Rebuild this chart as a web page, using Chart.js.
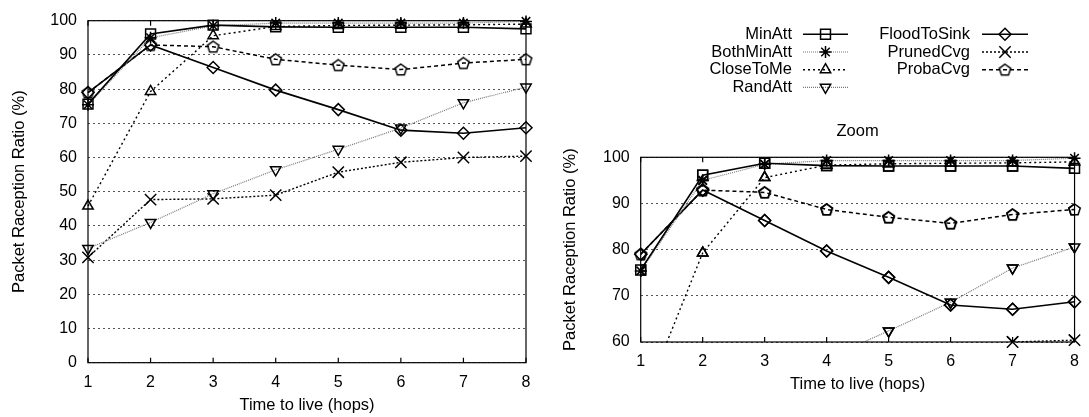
<!DOCTYPE html>
<html>
<head>
<meta charset="utf-8">
<script src="https://cdn.jsdelivr.net/npm/chart.js"></script>
<style>
  body { margin: 0; background: #fff; width: 1089px; height: 417px; position: relative; overflow: hidden; }
  #mainWrap { position: absolute; left: 0; top: 0; width: 560px; height: 417px; }
  #zoomWrap { position: absolute; left: 556px; top: 0; width: 533px; height: 417px; }
</style>
</head>
<body>
<div id="mainWrap"><canvas id="mainChart"></canvas></div>
<div id="zoomWrap"><canvas id="zoomChart"></canvas></div>
<script>
// values
const hops = [1, 2, 3, 4, 5, 6, 7, 8];
const minAtt      = [75.6, 96.1, 98.7, 98.2, 98.1, 98.1, 98.1, 97.6];
const bothMinAtt  = [75.4, 95.0, 98.5, 99.3, 99.3, 99.3, 99.3, 99.8];
const closeToMe   = [45.8, 79.3, 95.6, 98.3, 98.6, 98.7, 98.8, 99.0];
const randAtt     = [33.4, 41.0, 49.4, 56.4, 62.4, 68.6, 76.0, 80.6];
const floodToSink = [79.0, 92.9, 86.3, 79.7, 74.0, 68.0, 67.1, 68.7];
const prunedCvg   = [30.8, 47.7, 47.9, 49.0, 55.7, 58.6, 60.0, 60.4];
const probaCvg    = [79.0, 92.9, 92.4, 88.7, 87.0, 85.7, 87.6, 88.7];

const mainTicks = [0, 10, 20, 30, 40, 50, 60, 70, 80, 90, 100];
const zoomTicks = [60, 70, 80, 90, 100];

const FONT = 'Liberation Sans';
const TEXT_SIZE = 16.5;

function makePentagon(r, lw) {
  const size = Math.ceil(2 * r + lw * 2 + 2);
  const c = document.createElement('canvas');
  c.width = c.height = size;
  const g = c.getContext('2d');
  g.strokeStyle = '#000';
  g.lineWidth = lw;
  g.beginPath();
  for (let i = 0; i < 5; i++) {
    const a = -Math.PI / 2 + i * 2 * Math.PI / 5;
    const x = size / 2 + r * Math.cos(a), y = size / 2 + 0.5 + r * Math.sin(a);
    if (i) g.lineTo(x, y); else g.moveTo(x, y);
  }
  g.closePath();
  g.stroke();
  return c;
}
const pentagon = makePentagon(6, 1.5);

const series = [
  { label: 'MinAtt', data: minAtt, color: '#000', dash: [], width: 1.6, style: 'rect', r: 7, rot: 0 },
  { label: 'BothMinAtt', data: bothMinAtt, color: '#777', dash: [1, 1], width: 1.2, style: 'star', r: 6, rot: 0 },
  { label: 'CloseToMe', data: closeToMe, color: '#000', dash: [2, 3], width: 1.4, style: 'triangle', r: 6, rot: 0 },
  { label: 'RandAtt', data: randAtt, color: '#777', dash: [1, 1], width: 1.2, style: 'triangle', r: 6, rot: 180 },
  { label: 'FloodToSink', data: floodToSink, color: '#000', dash: [], width: 1.6, style: 'rectRot', r: 6, rot: 0 },
  { label: 'PrunedCvg', data: prunedCvg, color: '#000', dash: [2, 2], width: 1.4, style: 'crossRot', r: 8, rot: 0 },
  { label: 'ProbaCvg', data: probaCvg, color: '#000', dash: [4, 3], width: 1.5, style: pentagon, r: 6, rot: 0 }
];

function makeDatasets(clip) {
  return series.map(s => ({
    label: s.label,
    data: s.data,
    borderColor: s.color,
    borderWidth: s.width,
    borderDash: s.dash,
    pointStyle: s.style,
    pointRadius: s.r,
    pointRotation: s.rot,
    pointBorderColor: '#000',
    pointBackgroundColor: 'rgba(0,0,0,0)',
    pointBorderWidth: 1.5,
    tension: 0,
    clip: clip
  }));
}

// frame around the plot and small inward ticks on the x axis
const framePlugin = {
  id: 'frame',
  afterDatasetsDraw(chart) {
    const { ctx, chartArea: a } = chart;
    const xs = chart.scales.x;
    ctx.save();
    ctx.strokeStyle = '#000';
    ctx.lineWidth = 1.2;
    ctx.setLineDash([]);
    ctx.strokeRect(a.left, a.top, a.right - a.left, a.bottom - a.top);
    hops.forEach(h => {
      const px = xs.getPixelForValue(h);
      ctx.beginPath();
      ctx.moveTo(px, a.bottom); ctx.lineTo(px, a.bottom - 5);
      ctx.moveTo(px, a.top); ctx.lineTo(px, a.top + 5);
      ctx.stroke();
    });
    ctx.restore();
  }
};

// redraw the markers that sit inside the zoomed range without clipping
const markerPlugin = {
  id: 'markers',
  afterDatasetsDraw(chart) {
    const ys = chart.scales.y;
    chart.data.datasets.forEach((ds, i) => {
      const meta = chart.getDatasetMeta(i);
      meta.data.forEach((pt, j) => {
        const v = ds.data[j];
        if (v >= ys.min - 0.5 && v <= ys.max + 0.5) pt.draw(chart.ctx);
      });
    });
  }
};

// legend and "Zoom" title above the zoomed chart
const legendPlugin = {
  id: 'customLegend',
  afterDraw(chart) {
    const ctx = chart.ctx;
    const a = chart.chartArea;
    const cols = [
      { textRight: 236, lineFrom: 247, lineTo: 292, items: [0, 1, 2, 3] },
      { textRight: 414, lineFrom: 426, lineTo: 472, items: [4, 5, 6] }
    ];
    const rowY = [34.3, 52, 69.7, 87.3];
    ctx.save();
    ctx.font = TEXT_SIZE + 'px "' + FONT + '"';
    ctx.textAlign = 'right';
    ctx.textBaseline = 'middle';
    cols.forEach(col => {
      col.items.forEach((idx, row) => {
        const s = series[idx];
        const y = rowY[row];
        ctx.fillStyle = '#000';
        ctx.fillText(s.label, col.textRight, y);
        ctx.strokeStyle = s.color;
        ctx.lineWidth = s.width;
        ctx.setLineDash(s.dash);
        ctx.beginPath();
        ctx.moveTo(col.lineFrom, y);
        ctx.lineTo(col.lineTo, y);
        ctx.stroke();
        ctx.setLineDash([]);
        ctx.strokeStyle = '#000';
        ctx.fillStyle = 'rgba(0,0,0,0)';
        ctx.lineWidth = 1.5;
        Chart.helpers.drawPoint(ctx, {
          pointStyle: s.style, radius: s.r, rotation: s.rot, borderWidth: 1.5
        }, (col.lineFrom + col.lineTo) / 2, y);
      });
    });
    ctx.fillStyle = '#000';
    ctx.textAlign = 'center';
    ctx.fillText('Zoom', (a.left + a.right) / 2, 131.7);
    ctx.restore();
  }
};

function scaleOptions(ticks, yWidth, xHeight, yTitlePad, xTitlePad, xTickPad) {
  return {
    x: {
      type: 'linear',
      min: 1, max: 8,
      afterBuildTicks: s => { s.ticks = hops.map(v => ({ value: v })); },
      afterFit: s => { s.height = xHeight; },
      grid: { display: false, drawTicks: false },
      border: { display: false },
      ticks: { color: '#000', padding: xTickPad, font: { family: FONT, size: 16 } },
      title: { display: true, text: 'Time to live (hops)', color: '#000',
               padding: { top: 0, bottom: xTitlePad }, font: { family: FONT, size: TEXT_SIZE } }
    },
    y: {
      type: 'linear',
      min: ticks[0], max: ticks[ticks.length - 1],
      afterBuildTicks: s => { s.ticks = ticks.map(v => ({ value: v })); },
      afterFit: s => { s.width = yWidth; },
      grid: { color: '#555', lineWidth: 1, drawTicks: false },
      border: { display: false, dash: [2, 3] },
      ticks: { color: '#000', padding: 11, font: { family: FONT, size: 16 } },
      title: { display: true, text: 'Packet Raception Ratio (%)', color: '#000',
               padding: { top: yTitlePad, bottom: 0 }, font: { family: FONT, size: TEXT_SIZE } }
    }
  };
}

const common = {
  responsive: true,
  maintainAspectRatio: false,
  animation: false,
  events: [],
  plugins: { legend: { display: false }, tooltip: { enabled: false }, title: { display: false } }
};

new Chart(document.getElementById('mainChart'), {
  type: 'line',
  data: { labels: hops, datasets: makeDatasets(false) },
  options: Object.assign({}, common, {
    layout: { padding: { left: 0, right: 34, top: 20.7, bottom: 0 } },
    scales: scaleOptions(mainTicks, 88, 54.3, 9.4, 2.1, 10)
  }),
  plugins: [framePlugin]
});

new Chart(document.getElementById('zoomChart'), {
  type: 'line',
  data: { labels: hops, datasets: makeDatasets(0) },
  options: Object.assign({}, common, {
    layout: { padding: { left: 0, right: 11, top: 157.3, bottom: 22 } },
    scales: scaleOptions(zoomTicks, 84.7, 53, 4.1, 1.1, 10)
  }),
  plugins: [framePlugin, markerPlugin, legendPlugin]
});
</script>
</body>
</html>
